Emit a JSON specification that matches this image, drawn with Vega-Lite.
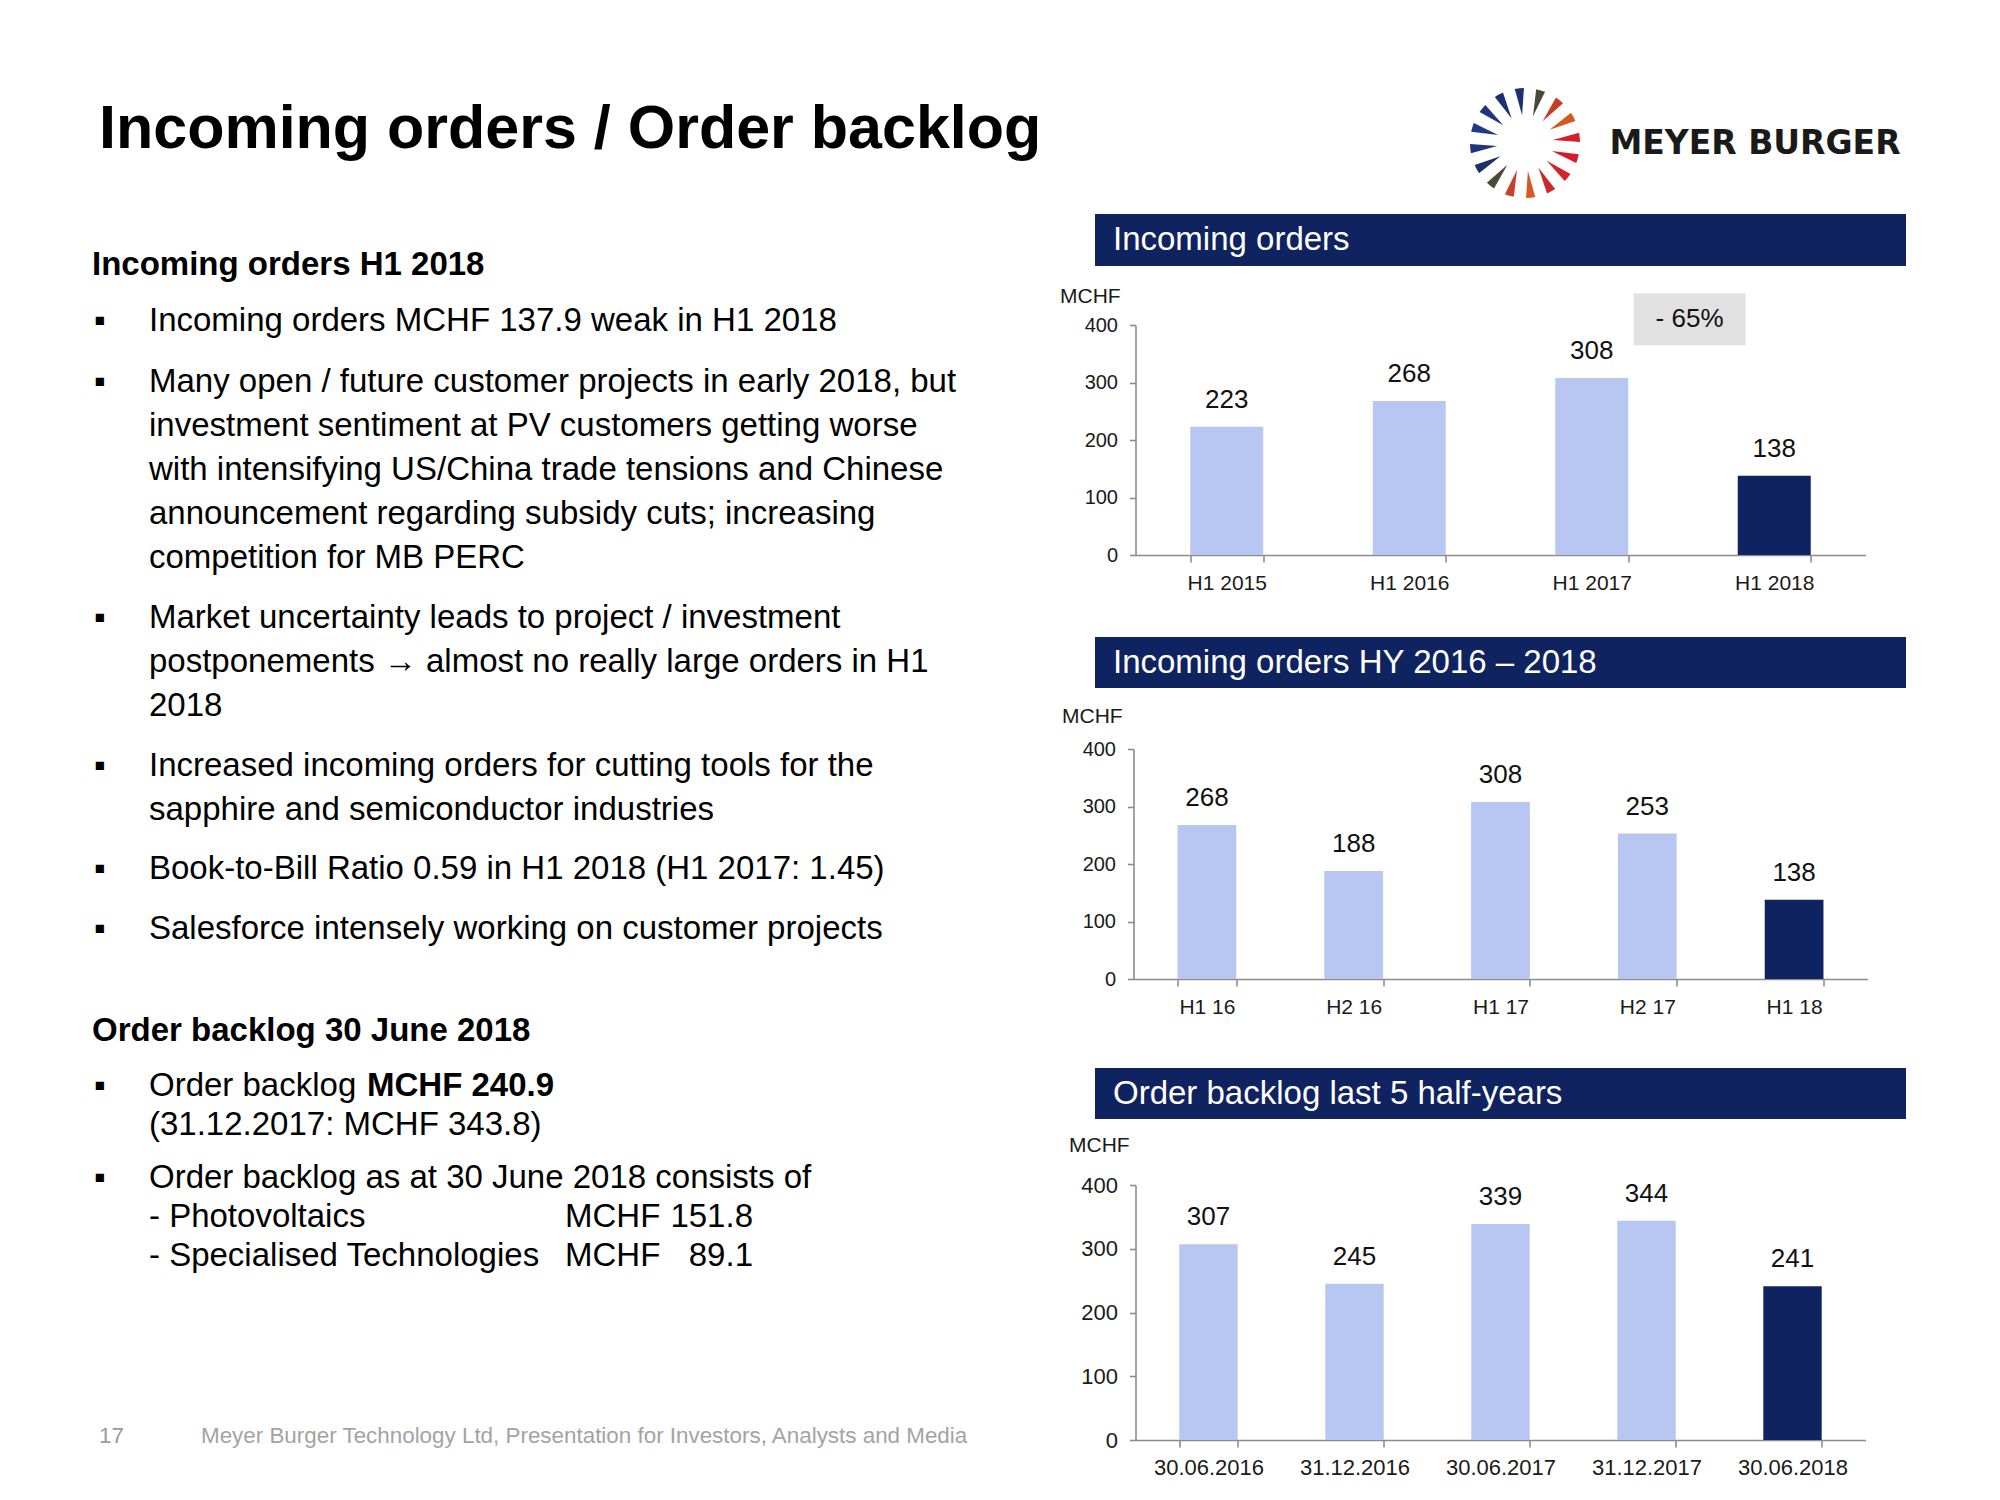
{
  "$schema": "https://vega.github.io/schema/vega-lite/v6.json",
  "background": "white",
  "padding": {"left": 0, "top": 88, "right": 0, "bottom": 0},
  "config": {
    "font": "Liberation Sans",
    "view": {"stroke": null},
    "axis": {"labelFont": "Liberation Sans", "titleFont": "Liberation Sans", "labelColor": "#1a1a1a", "titleColor": "#1a1a1a", "titleFontWeight": "normal", "domainColor": "#8c8c8c", "tickColor": "#8c8c8c", "domainWidth": 1.6, "tickWidth": 1.6, "grid": false},
    "axisX": {"labelFontSize": 21, "tickSize": 7, "labelPadding": 10, "labelAngle": 0},
    "axisY": {"labelFontSize": 20, "tickSize": 6, "labelPadding": 12, "titleAngle": 0, "titleAlign": "left", "titleBaseline": "middle", "titleFontSize": 21}
  },
  "datasets": {
    "title": [{"n": 0, "text": "Incoming orders / Order backlog"}],
    "brand": [{"text": "MEYER BURGER"}],
    "logo": [{"seg": "s01"}, {"seg": "s02"}, {"seg": "s03"}, {"seg": "s04"}, {"seg": "s05"}, {"seg": "s06"}, {"seg": "s07"}, {"seg": "s08"}, {"seg": "s09"}, {"seg": "s10"}, {"seg": "s11"}, {"seg": "s12"}, {"seg": "s13"}, {"seg": "s14"}, {"seg": "s15"}, {"seg": "s16"}],
    "heads": [
      {"n": 1, "text": "Incoming orders H1 2018"},
      {"n": 8, "text": "Order backlog 30 June 2018"}
    ],
    "body": [
      {"n": 2, "bullet": "▪", "text": "Incoming orders MCHF 137.9 weak in H1 2018"},
      {"n": 3, "bullet": "▪", "text": "Many open / future customer projects in early 2018, but\ninvestment sentiment at PV customers getting worse\nwith intensifying US/China trade tensions and Chinese\nannouncement regarding subsidy cuts; increasing\ncompetition for MB PERC"},
      {"n": 4, "bullet": "▪", "text": "Market uncertainty leads to project / investment\npostponements → almost no really large orders in H1\n2018"},
      {"n": 5, "bullet": "▪", "text": "Increased incoming orders for cutting tools for the\nsapphire and semiconductor industries"},
      {"n": 6, "bullet": "▪", "text": "Book-to-Bill Ratio 0.59 in H1 2018 (H1 2017: 1.45)"},
      {"n": 7, "bullet": "▪", "text": "Salesforce intensely working on customer projects"},
      {"n": 9, "bullet": "▪", "text": "Order backlog"},
      {"n": 10, "bullet": "", "text": "(31.12.2017: MCHF 343.8)"},
      {"n": 11, "bullet": "▪", "text": "Order backlog as at 30 June 2018 consists of"},
      {"n": 12, "bullet": "", "text": "- Photovoltaics"},
      {"n": 13, "bullet": "", "text": "- Specialised Technologies"}
    ],
    "emph": [{"n": 9, "text": "MCHF 240.9"}],
    "amounts": [
      {"n": 12, "unit": "MCHF", "amount": "151.8"},
      {"n": 13, "unit": "MCHF", "amount": "89.1"}
    ],
    "footer": [{"n": 14, "page": "17", "text": "Meyer Burger Technology Ltd, Presentation for Investors, Analysts and Media"}],
    "incoming": [
      {"period": "H1 2015", "value": 223},
      {"period": "H1 2016", "value": 268},
      {"period": "H1 2017", "value": 308},
      {"period": "H1 2018", "value": 138}
    ],
    "change": [{"period": "H1 2018", "change": "- 65%"}],
    "halfyears": [
      {"period": "H1 16", "value": 268},
      {"period": "H2 16", "value": 188},
      {"period": "H1 17", "value": 308},
      {"period": "H2 17", "value": 253},
      {"period": "H1 18", "value": 138}
    ],
    "backlog": [
      {"period": "30.06.2016", "value": 307},
      {"period": "31.12.2016", "value": 245},
      {"period": "30.06.2017", "value": 339},
      {"period": "31.12.2017", "value": 344},
      {"period": "30.06.2018", "value": 241}
    ]
  },
  "hconcat": [
    {
      "width": 1055, "height": 1388,
      "encoding": {
        "y": {"field": "n", "type": "quantitative", "axis": null, "scale": {"domain": [0, 1, 2, 3, 4, 5, 6, 7, 8, 9, 10, 11, 12, 13, 14], "range": [60, 187, 243, 304, 540, 688, 791, 851, 953, 1008, 1047, 1100, 1139, 1178, 1355], "nice": false, "zero": false}}
      },
      "layer": [
        {
          "data": {"name": "title"},
          "mark": {"type": "text", "align": "left", "baseline": "alphabetic", "fontSize": 61, "fontWeight": "bold", "color": "#000000"},
          "encoding": {"x": {"value": 99}, "text": {"field": "text"}}
        },
        {
          "data": {"name": "heads"},
          "mark": {"type": "text", "align": "left", "baseline": "alphabetic", "fontSize": 33, "fontWeight": "bold", "color": "#000000"},
          "encoding": {"x": {"value": 92}, "text": {"field": "text"}}
        },
        {
          "data": {"name": "body"},
          "mark": {"type": "text", "align": "left", "baseline": "alphabetic", "fontSize": 33, "lineBreak": "\n", "lineHeight": 44, "color": "#000000"},
          "encoding": {"x": {"value": 149}, "text": {"field": "text"}}
        },
        {
          "data": {"name": "body"},
          "mark": {"type": "text", "align": "left", "baseline": "alphabetic", "fontSize": 33, "color": "#000000"},
          "encoding": {"x": {"value": 94}, "text": {"field": "bullet"}}
        },
        {
          "data": {"name": "emph"},
          "mark": {"type": "text", "align": "left", "baseline": "alphabetic", "fontSize": 33, "fontWeight": "bold", "color": "#000000"},
          "encoding": {"x": {"value": 367}, "text": {"field": "text"}}
        },
        {
          "data": {"name": "amounts"},
          "mark": {"type": "text", "align": "left", "baseline": "alphabetic", "fontSize": 33, "color": "#000000"},
          "encoding": {"x": {"value": 565}, "text": {"field": "unit"}}
        },
        {
          "data": {"name": "amounts"},
          "mark": {"type": "text", "align": "right", "baseline": "alphabetic", "fontSize": 33, "color": "#000000"},
          "encoding": {"x": {"value": 753}, "text": {"field": "amount"}}
        },
        {
          "data": {"name": "footer"},
          "mark": {"type": "text", "align": "left", "baseline": "alphabetic", "fontSize": 22.4, "color": "#9a9a9a"},
          "encoding": {"x": {"value": 99}, "text": {"field": "page"}}
        },
        {
          "data": {"name": "footer"},
          "mark": {"type": "text", "align": "left", "baseline": "alphabetic", "fontSize": 22.4, "color": "#a3a3a3"},
          "encoding": {"x": {"value": 201}, "text": {"field": "text"}}
        }
      ]
    },
    {
      "vconcat": [
        {
          "width": 811, "height": 97,
          "layer": [
            {
              "data": {"name": "logo"},
              "mark": {"type": "arc", "innerRadius": 28, "outerRadius": 55, "padAngle": 0.2},
              "encoding": {
                "x": {"value": 430}, "y": {"value": 55},
                "theta": {"aggregate": "count", "type": "quantitative", "stack": true, "scale": {"range": [-0.3, 5.983]}},
                "order": {"field": "seg", "type": "ordinal"},
                "color": {"field": "seg", "type": "nominal", "legend": null, "scale": {
                  "domain": ["s01", "s02", "s03", "s04", "s05", "s06", "s07", "s08", "s09", "s10", "s11", "s12", "s13", "s14", "s15", "s16"],
                  "range": ["#1d3170", "#4a4838", "#c43d24", "#d8561f", "#d81e2c", "#d81a2b", "#d42330", "#cc2a2a", "#d35a22", "#c8402a", "#4c4a36", "#1c2f66", "#213579", "#223a84", "#20367c", "#1c3072"]}}
              }
            },
            {
              "data": {"name": "brand"},
              "mark": {"type": "text", "align": "center", "baseline": "middle", "font": "DejaVu Sans", "fontSize": 33, "fontWeight": "bold", "color": "#1a1a1a"},
              "encoding": {"text": {"field": "text"}, "x": {"value": 660}, "y": {"value": 56}}
            }
          ]
        },
        {
          "width": 811, "height": 52,
          "view": {"fill": "#0f2360", "stroke": null},
          "data": {"values": [{"title": "Incoming orders"}]},
          "mark": {"type": "text", "align": "left", "baseline": "middle", "fontSize": 33, "color": "#ffffff"},
          "encoding": {"text": {"field": "title"}, "x": {"value": 18}}
        },
        {"width": 10, "height": 1, "data": {"values": []}, "mark": "point"},
        {
          "width": 730, "height": 230,
          "layer": [
            {
              "data": {"name": "incoming"},
              "encoding": {
                "x": {"field": "period", "type": "nominal", "sort": null, "title": null, "scale": {"paddingInner": 0.6, "paddingOuter": 0.3}, "axis": {"tickBand": "extent", "labelAngle": 0}},
                "y": {"field": "value", "type": "quantitative", "title": "MCHF", "scale": {"domain": [0, 400], "nice": false}, "axis": {"values": [0, 100, 200, 300, 400], "titleX": -76, "titleY": -29}}
              },
              "layer": [
                {"mark": {"type": "bar"}, "encoding": {"color": {"condition": {"test": "datum.period === 'H1 2018'", "value": "#0f2360"}, "value": "#b8c7f1"}}},
                {"mark": {"type": "text", "baseline": "middle", "dy": -27, "fontSize": 26, "color": "#111111"}, "encoding": {"text": {"field": "value", "type": "quantitative"}}}
              ]
            },
            {
              "data": {"name": "change"},
              "encoding": {
                "x": {"field": "period", "type": "nominal", "sort": null, "title": null, "bandPosition": -0.66, "scale": {"paddingInner": 0.6, "paddingOuter": 0.3}, "axis": {"tickBand": "extent", "labelAngle": 0}},
                "y": {"datum": 410, "type": "quantitative", "title": "MCHF", "scale": {"domain": [0, 400], "nice": false}, "axis": {"values": [0, 100, 200, 300, 400], "titleX": -76, "titleY": -29}}
              },
              "layer": [
                {"mark": {"type": "point", "shape": "M-1,-0.464H1V0.464H-1Z", "size": 12544, "filled": true, "color": "#e1e1e1", "opacity": 1, "strokeWidth": 0}},
                {"mark": {"type": "text", "baseline": "middle", "fontSize": 26, "color": "#111111"}, "encoding": {"text": {"field": "change"}}}
              ]
            }
          ]
        },
        {"width": 10, "height": 24, "data": {"values": []}, "mark": "point"},
        {
          "width": 811, "height": 51,
          "view": {"fill": "#0f2360", "stroke": null},
          "data": {"values": [{"title": "Incoming orders HY 2016 – 2018"}]},
          "mark": {"type": "text", "align": "left", "baseline": "middle", "fontSize": 33, "color": "#ffffff"},
          "encoding": {"text": {"field": "title"}, "x": {"value": 18}}
        },
        {"width": 10, "height": 3, "data": {"values": []}, "mark": "point"},
        {
          "width": 734, "height": 230,
          "data": {"name": "halfyears"},
          "encoding": {
            "x": {"field": "period", "type": "nominal", "sort": null, "title": null, "scale": {"paddingInner": 0.6, "paddingOuter": 0.3}, "axis": {"tickBand": "extent", "labelAngle": 0}},
            "y": {"field": "value", "type": "quantitative", "scale": {"domain": [0, 400], "nice": false}, "axis": {"values": [0, 100, 200, 300, 400], "title": "MCHF", "titleX": -72, "titleY": -33}}
          },
          "layer": [
            {"mark": {"type": "bar"}, "encoding": {"color": {"condition": {"test": "datum.period === 'H1 18'", "value": "#0f2360"}, "value": "#b8c7f1"}}},
            {"mark": {"type": "text", "baseline": "middle", "dy": -27, "fontSize": 26, "color": "#111111"}, "encoding": {"text": {"field": "value", "type": "quantitative"}}}
          ]
        },
        {"width": 10, "height": 31, "data": {"values": []}, "mark": "point"},
        {
          "width": 811, "height": 51,
          "view": {"fill": "#0f2360", "stroke": null},
          "data": {"values": [{"title": "Order backlog last 5 half-years"}]},
          "mark": {"type": "text", "align": "left", "baseline": "middle", "fontSize": 33, "color": "#ffffff"},
          "encoding": {"text": {"field": "title"}, "x": {"value": 18}}
        },
        {"width": 10, "height": 8, "data": {"values": []}, "mark": "point"},
        {
          "width": 730, "height": 255,
          "data": {"name": "backlog"},
          "encoding": {
            "x": {"field": "period", "type": "nominal", "sort": null, "title": null, "scale": {"paddingInner": 0.6, "paddingOuter": 0.3}, "axis": {"tickBand": "extent", "labelAngle": 0, "labelFontSize": 22}},
            "y": {"field": "value", "type": "quantitative", "scale": {"domain": [0, 400], "nice": false}, "axis": {"values": [0, 100, 200, 300, 400], "title": "MCHF", "titleX": -67, "titleY": -40, "labelFontSize": 22}}
          },
          "layer": [
            {"mark": {"type": "bar"}, "encoding": {"color": {"condition": {"test": "datum.period === '30.06.2018'", "value": "#0f2360"}, "value": "#b8c7f1"}}},
            {"mark": {"type": "text", "baseline": "middle", "dy": -27, "fontSize": 26, "color": "#111111"}, "encoding": {"text": {"field": "value", "type": "quantitative"}}}
          ]
        }
      ],
      "spacing": 29,
      "center": true,
      "bounds": "flush"
    }
  ],
  "spacing": 40,
  "bounds": "flush"
}
